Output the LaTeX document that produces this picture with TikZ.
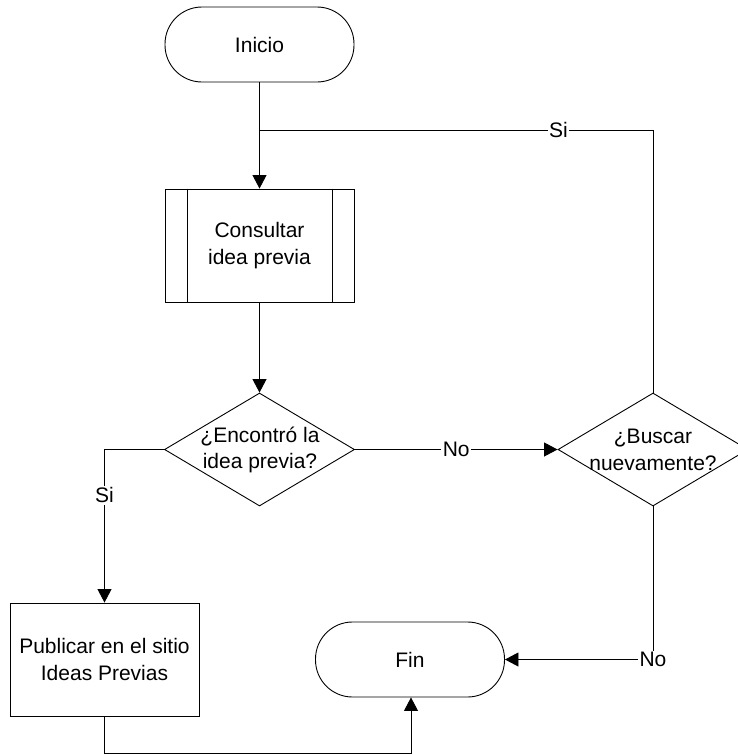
\documentclass[tikz,border=0pt]{standalone}
\usepackage{fontspec}
\setmainfont{Liberation Sans}
\usetikzlibrary{arrows.meta,shapes.geometric}
\begin{document}
\begin{tikzpicture}[x=1pt,y=-1pt,
  every node/.style={font=\fontsize{21}{26.7}\selectfont},
  base/.style={draw, line width=0.9pt, inner sep=0pt, align=center},
  terminal/.style={base, rectangle, rounded corners=37pt, minimum width=189pt, minimum height=75pt},
  process/.style={base, rectangle, minimum width=189pt, minimum height=113pt},
  decision/.style={base, diamond, minimum width=190pt, minimum height=113pt},
  txt/.style={align=center, inner sep=0pt},
  lbl/.style={fill=white, inner sep=1.5pt},
  flow/.style={line width=0.9pt},
  arr/.style={flow, -{Triangle[length=13.5pt,width=14pt]}}]
\useasboundingbox (0,0) rectangle (738,755);
\clip (0,0) rectangle (738,755);

% shapes
\node[terminal] (ini) at (259.5,44.5) {Inicio};
\node[process]  (cons) at (259.5,245.5) {Consultar\\idea previa};
\draw[flow] ([xshift=23pt]cons.north west) -- ([xshift=23pt]cons.south west);
\draw[flow] ([xshift=-22pt]cons.north east) -- ([xshift=-22pt]cons.south east);
\node[decision] (enc) at (259.5,449.5) {};
\node[txt] (enctxt) at (260,450) {¿Encontró la\\idea previa?};
\node[decision] (bus) at (653,449.5) {};
\node[txt] (bustxt) at (653,450) {¿Buscar\\nuevamente?};
\node[process]  (pub) at (104.5,659.5) {Publicar en el sitio\\Ideas Previas};
\node[terminal] (fin) at (410,659.5) {Fin};
\coordinate (m) at (259.5,130);

% connectors
\draw[arr] (ini.south) -- (cons.north);
\draw[flow] (bus.north) |- node[lbl, pos=0.62] {Si} (m);
\draw[arr] (cons.south) -- (enc.north);
\draw[arr] (enc.east) -- node[lbl] {No} (bus.west);
\draw[arr] (enc.west) -| node[lbl, pos=0.65] {Si} (pub.north);
\draw[arr] (bus.south) |- node[lbl, pos=0.5] {No} (fin.east);
\draw[arr] (pub.south) -- ++(0,37) -| ([xshift=1pt]fin.south);
\end{tikzpicture}
\end{document}
